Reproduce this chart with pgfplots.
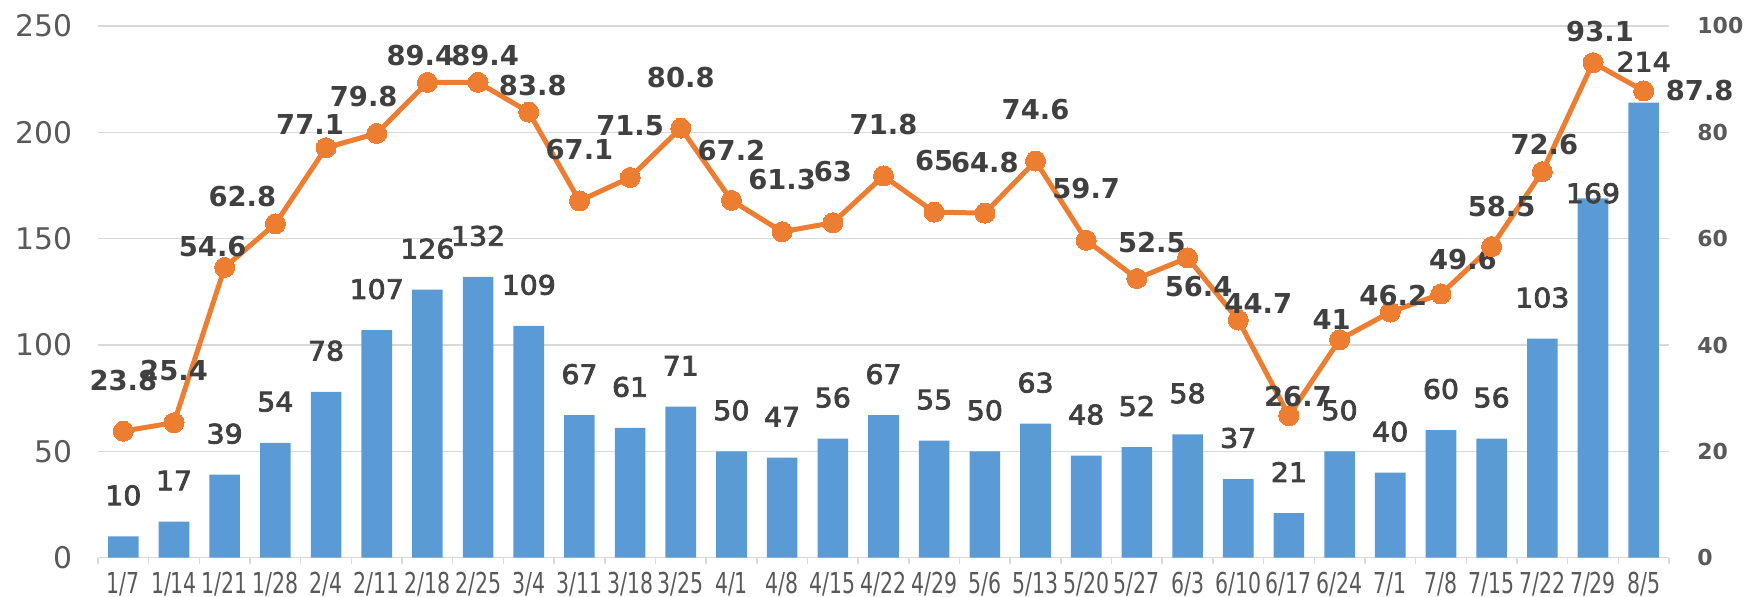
\documentclass[border=0pt]{standalone}
\usepackage{pgfplots}
\usepackage{pgfplotstable}
\pgfplotsset{compat=1.18}
\usepackage{fontspec}
\setmainfont{DejaVu Sans}
\newfontfamily\xlabfont[FakeStretch=0.71]{DejaVu Sans}
\newfontfamily\barlabfont[FakeStretch=1.06, FakeBold=3]{DejaVu Sans}
\definecolor{barblue}{HTML}{5B9BD5}
\definecolor{lineorange}{HTML}{ED7D31}
\definecolor{gridgray}{HTML}{D9D9D9}
\definecolor{ticktext}{HTML}{595959}
\definecolor{labtext}{HTML}{404040}

\pgfplotstableread{
x y sh
0 10 20.5
1 17 20.5
2 39 20.5
3 54 20.5
4 78 20.5
5 107 20.5
6 126 20.5
7 132 20.5
8 109 20.5
9 67 20.5
10 61 20.5
11 71 20.5
12 50 20.5
13 47 20.5
14 56 20.5
15 67 20.5
16 55 20.5
17 50 20.5
18 63 20.5
19 48 20.5
20 52 20.5
21 58 20.5
22 37 20.5
23 21 20.5
24 50 20.5
25 40 20.5
26 60 20.5
27 56 20.5
28 103 20.5
29 169 2.5
30 214 20.5
}\bardata

\pgfplotstableread{
x y lab dx dy
0 23.8 23.8 0 -51
1 25.4 25.4 0 -52
2 54.6 54.6 -12 -21
3 62.8 62.8 -33 -27
4 77.1 77.1 -16 -23
5 79.8 79.8 -13 -37
6 89.4 89.4 -7 -27
7 89.4 89.4 7 -27
8 83.8 83.8 4 -27
9 67.1 67.1 0 -51
10 71.5 71.5 0 -52
11 80.8 80.8 0 -51
12 67.2 67.2 0 -50
13 61.3 61.3 0 -52
14 63 63 0 -51
15 71.8 71.8 0 -51
16 65 65 0 -52
17 64.8 64.8 0 -51
18 74.6 74.6 0 -51
19 59.7 59.7 0 -52
20 52.5 52.5 15 -36
21 56.4 56.4 11 29
22 44.7 44.7 20 -17
23 26.7 26.7 9 -19
24 41 41 -8 -20
25 46.2 46.2 3 -17
26 49.6 49.6 22 -34
27 58.5 58.5 10 -40
28 72.6 72.6 2 -27
29 93.1 93.1 7 -31
30 87.8 87.8 56 0
}\linedata

\begin{document}
\begin{tikzpicture}
\path[use as bounding box] (-49pt,-19.65pt) rectangle (823pt,278.85pt);
\begin{axis}[
  at={(0,0)}, anchor=south west,
  scale only axis, width=785.5pt, height=265.85pt,
  clip=false,
  xmin=-0.5, xmax=30.5, ymin=0, ymax=250,
  ytick={0,50,...,250},
  xtick={0,...,30},
  xticklabels={1/7,1/14,1/21,1/28,2/4,2/11,2/18,2/25,3/4,3/11,3/18,3/25,4/1,4/8,4/15,4/22,4/29,5/6,5/13,5/20,5/27,6/3,6/10,6/17,6/24,7/1,7/8,7/15,7/22,7/29,8/5},
  minor xtick={-0.5,0.5,...,30.5},
  tick align=outside,
  major x tick style={draw=none},
  minor x tick style={gridgray, line width=0.75pt},
  minor tick length=3pt,
  major tick length=0pt,
  axis x line*=bottom,
  axis y line*=left,
  x axis line style={gridgray, line width=0.75pt, -},
  y axis line style={draw=none},
  ytick style={draw=none},
  ymajorgrids,
  grid style={gridgray, line width=0.75pt},
  /pgf/number format/assume math mode=true,
  yticklabel style={font=\fontsize{14.9}{15}\selectfont, text=ticktext, inner sep=0pt, anchor=east, xshift=-12.5pt},
  xticklabel style={font=\xlabfont\fontsize{14.4}{15}\selectfont, text=ticktext, inner sep=0pt, anchor=north, yshift=-7pt},
]
\addplot[ybar, bar width=15.3pt, bar shift=0pt, fill=barblue, draw=none,
  nodes near coords,
  point meta=y,
  visualization depends on={\thisrow{sh} \as \bsh},
  nodes near coords style={anchor=center, inner sep=0pt, yshift=\bsh pt, font=\barlabfont\fontsize{13.4}{14}\selectfont, text=labtext, /pgf/number format/assume math mode=true}
] table[x=x, y=y] \bardata;
\end{axis}
\begin{axis}[
  at={(0,0)}, anchor=south west,
  scale only axis, width=785.5pt, height=265.85pt,
  clip=false,
  xmin=-0.5, xmax=30.5, ymin=0, ymax=100,
  ytick={0,20,...,100},
  axis x line=none,
  axis y line*=right,
  y axis line style={draw=none},
  ytick style={draw=none},
  major tick length=0pt,
  /pgf/number format/assume math mode=true,
  yticklabel style={font=\bfseries\fontsize{11}{12}\selectfont, text=ticktext, inner sep=0pt, anchor=west, xshift=14pt},
]
\addplot[lineorange, line width=2.5pt, mark=*, mark size=5pt,
  mark options={solid, fill=lineorange, draw=lineorange, line width=0pt},
  nodes near coords,
  point meta=explicit symbolic,
  visualization depends on={\thisrow{dx} \as \ldx},
  visualization depends on={\thisrow{dy} \as \ldy},
  nodes near coords style={anchor=center, inner sep=0pt, xshift=\ldx*0.5pt, yshift=-\ldy*0.5pt, font=\bfseries\fontsize{13.7}{14}\selectfont, text=labtext}
] table[x=x, y=y, meta=lab] \linedata;
\end{axis}
\end{tikzpicture}
\end{document}
